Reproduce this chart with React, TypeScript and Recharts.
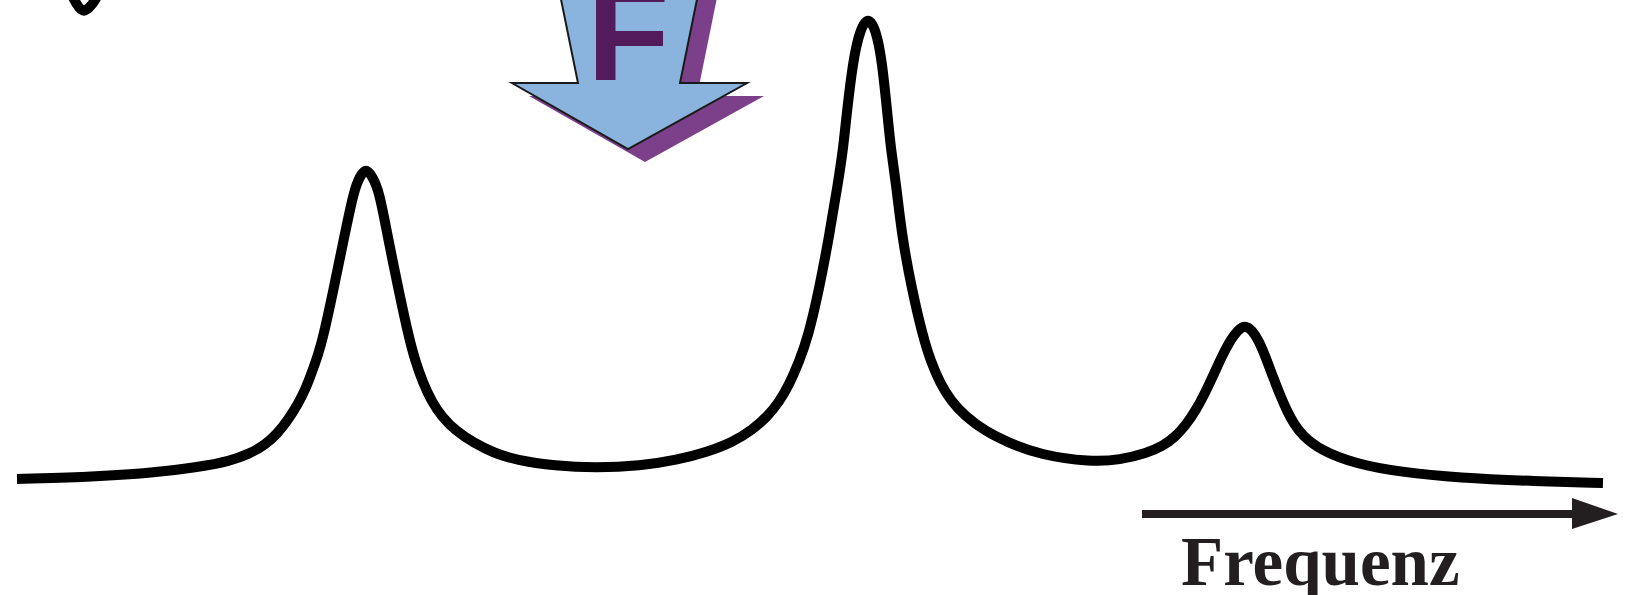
import React from 'react';
import { LineChart, Line, XAxis, YAxis, Customized } from 'recharts';

// frequency (x) and response amplitude
const frequency = [
  17, 60, 104, 150, 200, 230, 249, 265, 277, 288, 298, 306, 312, 318, 323, 333, 344, 354, 360, 366,
  372, 379, 388, 399, 409, 415, 423, 432, 442, 456, 474, 494, 516, 555, 596, 640, 677, 707, 733, 752,
  768, 779, 789, 799, 808, 819, 829, 838, 843, 846, 853, 860, 868, 876, 882, 888, 891, 896, 902, 912,
  923, 931, 940, 951, 965, 985, 1007, 1040, 1091, 1120, 1147, 1163, 1175, 1186, 1196, 1205, 1214, 1222, 1231, 1238,
  1245, 1252, 1259, 1266, 1273, 1280, 1287, 1294, 1302, 1320, 1356, 1400, 1460, 1530, 1603,
];
const amplitude = [
  121, 122, 124, 127, 133, 139, 146, 155, 166, 180, 196, 212, 228, 245, 262, 308, 362, 410, 424, 432,
  424, 410, 362, 308, 262, 240, 217, 198, 183, 169, 157, 147, 140, 134, 132, 134, 140, 148, 158, 170,
  184, 198, 215, 238, 263, 310, 363, 417, 450, 480, 540, 570, 584, 570, 540, 480, 450, 417, 363, 310,
  263, 238, 217, 199, 184, 169, 158, 145, 138, 140, 147, 154, 163, 175, 190, 207, 226, 244, 261, 270,
  275, 270, 259, 242, 223, 205, 189, 176, 165, 150, 136, 128, 122, 119, 117,
];

// tail of the previous curve peeking in at the top-left
const tailFrequency = [66, 74, 79, 84, 89, 96, 103];
const tailAmplitude = [618, 600, 592, 588, 592, 600, 618];

const curve = frequency.map((f, i) => ({ f, a: amplitude[i] }));
const tail = tailFrequency.map((f, i) => ({ f, a: tailAmplitude[i] }));

const Annotations = () => {
  const arrow = '553,-40 578,83 512,83 628,149 747,83 680,83 705,-40';
  return (
    <g>
      <polygon points={arrow} fill="#7B4089" transform="translate(17,13)" />
      <polygon points={arrow} fill="#8AB4DE" stroke="#1a1a1a" strokeWidth={2} />
      <text
        x={587}
        y={80}
        fontFamily="'Liberation Sans', Arial, sans-serif"
        fontWeight="bold"
        fontSize={135}
        fill="#531A5C"
      >
        F
      </text>
      <line x1={1142} y1={514} x2={1578} y2={514} stroke="#231F20" strokeWidth={8} />
      <polygon points="1572,498 1618,514 1572,529" fill="#231F20" />
      <text
        x={1181}
        y={585}
        fontFamily="'Liberation Serif', 'Times New Roman', serif"
        fontWeight="bold"
        fontSize={69}
        fill="#231F20"
      >
        Frequenz
      </text>
    </g>
  );
};

const App: React.FC = () => {
  return (
    <div style={{ position: 'absolute', left: 0, top: 0, width: 1635, height: 595, background: '#fff' }}>
      <LineChart width={1635} height={595} margin={{ top: 0, right: 0, bottom: 0, left: 0 }}>
        <XAxis type="number" dataKey="f" domain={[0, 1635]} allowDataOverflow hide />
        <YAxis type="number" domain={[5, 600]} allowDataOverflow hide />
        <Customized component={Annotations} />
        <Line
          data={curve}
          dataKey="a"
          type="basis"
          stroke="#000"
          strokeWidth={10}
          dot={false}
          activeDot={false}
          isAnimationActive={false}
        />
        <Line
          data={tail}
          dataKey="a"
          type="basis"
          stroke="#000"
          strokeWidth={10}
          dot={false}
          activeDot={false}
          isAnimationActive={false}
        />
      </LineChart>
    </div>
  );
};

export default App;
